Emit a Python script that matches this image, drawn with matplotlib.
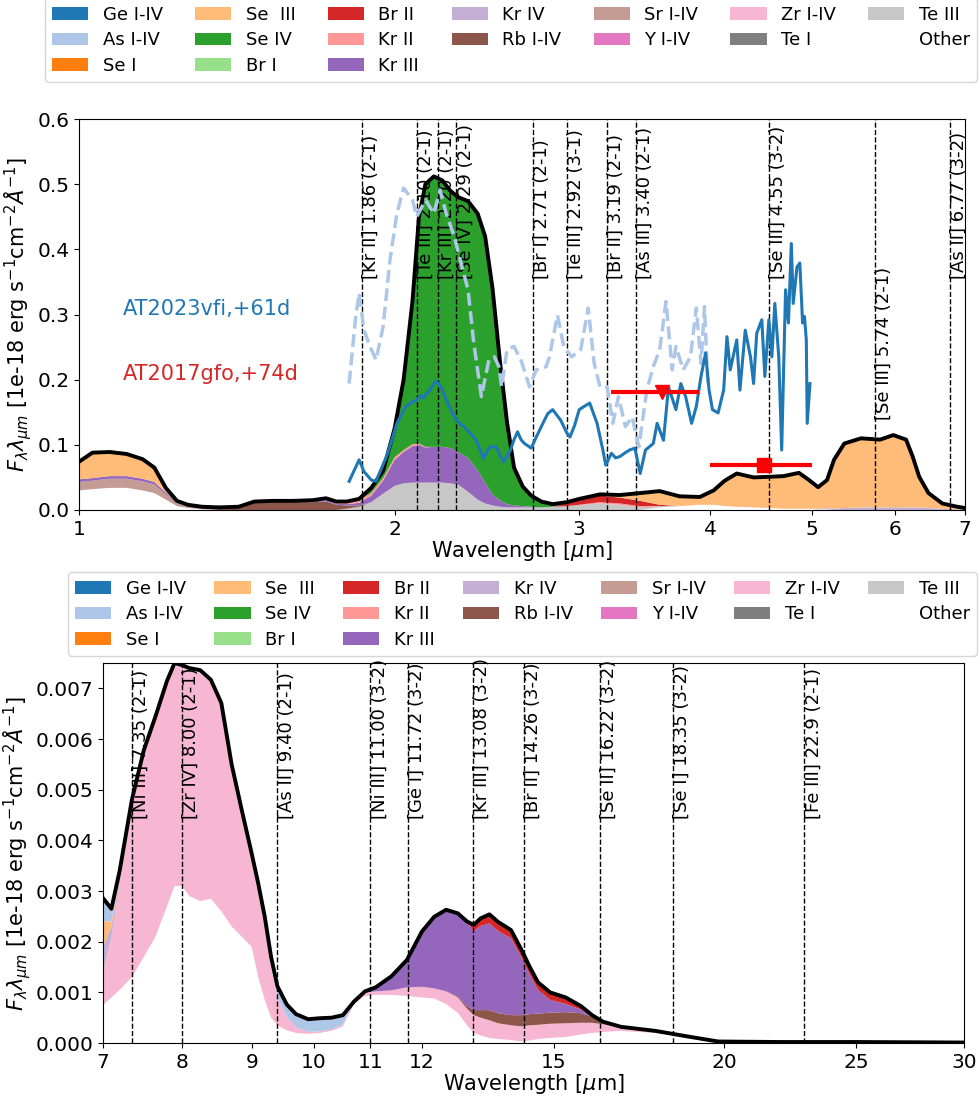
import numpy as np
import matplotlib.pyplot as plt
from matplotlib.patches import Patch
from matplotlib.ticker import FixedLocator, NullLocator, FormatStrFormatter
import matplotlib.transforms as mtransforms

##################
# SPECIES / COLOURS
##################

species = ['Ge I-IV', 'As I-IV', 'Se I', 'Se  III', 'Se IV', 'Br I', 'Br II',
           'Kr II', 'Kr III', 'Kr IV', 'Rb I-IV', 'Sr I-IV', 'Y I-IV',
           'Zr I-IV', 'Te I', 'Te III', 'Other']
colors = list(plt.cm.tab20.colors[:16]) + ['white']
color_of = dict(zip(species, colors))
stack_order = species[::-1]  # 'Other' sits at the bottom of the stack

##################
# NIR MODEL (1-7 um)
##################

nir_wl = [1.00, 1.03, 1.07, 1.11, 1.15, 1.18, 1.21, 1.24, 1.27, 1.31, 1.36, 1.42,
          1.47, 1.53, 1.60, 1.67, 1.72, 1.76, 1.80, 1.85, 1.90, 1.95, 2.00, 2.04,
          2.08, 2.11, 2.14, 2.18, 2.22, 2.26, 2.30, 2.35, 2.40, 2.44, 2.48, 2.52,
          2.56, 2.60, 2.65, 2.70, 2.76, 2.83, 2.92, 3.00, 3.14, 3.28, 3.43, 3.58,
          3.74, 3.91, 4.03, 4.13, 4.24, 4.40, 4.56, 4.70, 4.86, 4.96, 5.07, 5.17,
          5.25, 5.37, 5.57, 5.81, 5.98, 6.15, 6.24, 6.33, 6.46, 6.66, 6.88, 7.00]

nir_other = [.030, .032, .034, .034, .030, .026, .016, .006, .003, .001, 0, 0,
             0, 0, 0, 0, 0, 0, 0, 0, 0, 0, 0, 0,
             0, 0, 0, 0, 0, 0, 0, 0, 0, 0, 0, 0,
             0, 0, 0, 0, 0, 0, 0, 0, 0, 0, 0, .004,
             .006, .008, .008, .006, .005, .004, .003, .002, .002, .002, .001, .001,
             0, 0, 0, 0, 0, 0, 0, 0, 0, 0, 0, 0]
nir_te3 = [0, 0, 0, 0, 0, 0, 0, 0, 0, 0, 0, 0,
           0, 0, 0, 0, 0, 0, .002, .005, .012, .025, .037, .041,
           .042, .042, .042, .042, .042, .041, .039, .028, .016, .010, .007, .005,
           .004, .004, .004, .004, .004, .005, .006, .008, .010, .008, .004, .002,
           0, 0, 0, 0, 0, 0, 0, 0, 0, 0, 0, 0,
           0, 0, 0, 0, 0, 0, 0, 0, 0, 0, 0, 0]
nir_sr = [.013, .013, .014, .014, .014, .013, .008, .004, .002, .001, 0, 0] + [0] * 60
nir_rb = [0, 0, 0, 0, 0, 0, 0, 0, 0, .002, .003, .004,
          .011, .012, .012, .012, .013, .008, .005, .002, 0, 0, 0, 0] + [0] * 48
nir_kr4 = [0] * 48 + [0, 0, 0, 0, 0, 0, 0, 0, 0, 0, .001, .002,
                      .002, .003, .004, .004, .004, .004, .004, .004, .003, .002, .001, .001]
nir_kr3 = [.004, .004, .004, .004, .004, .004, .003, .001, .001, 0, 0, 0,
           .001, .001, .001, .001, .002, .002, .002, .004, .010, .020, .040, .048,
           .056, .058, .054, .055, .055, .054, .050, .052, .045, .032, .017, .010,
           .005, .003, .002, .001, 0, 0, 0, 0, 0, 0, 0, 0] + [0] * 24
nir_kr2 = [0] * 12 + [.001, .001, .001, .002, .003, .003, .004, .004, .004, .004, .004, .003,
                      .003, .002, .001, 0, 0, 0, 0, 0, 0, 0, 0, 0,
                      0, 0, 0, 0, 0, 0, 0, 0, .002, .002, .002, 0] + [0] * 24
nir_br2 = [0] * 36 + [0, 0, 0, 0, 0, 0, .004, .007, .010, .009, .008, .002] + [0] * 24
nir_se4 = [0] * 12 + [0, 0, 0, 0, 0, 0, 0, .002, .008, .011, .044, .108,
                      .219, .348, .403, .415, .409, .395, .391, .394, .394, .378, .316, .215,
                      .126, .058, .030, .017, .009, .004, .002, .002, 0, 0, 0, 0] + [0] * 24
nir_se3 = [.027, .039, .037, .034, .030, .022, .007, .003, .002, .001, .001, .001,
           0, 0, 0, 0, 0, 0, 0, 0, 0, 0, 0, 0,
           0, 0, 0, 0, 0, 0, 0, 0, 0, 0, 0, 0,
           0, 0, 0, 0, 0, 0, 0, 0, .002, .004, .012, .021,
           .015, .012, .022, .039, .051, .046, .048, .050, .055, .045, .033, .043,
           .075, .099, .106, .104, .111, .104, .078, .047, .023, .008, .004, .002]

nir_comps = {'Other': nir_other, 'Te III': nir_te3, 'Sr I-IV': nir_sr, 'Rb I-IV': nir_rb,
             'Kr IV': nir_kr4, 'Kr III': nir_kr3, 'Kr II': nir_kr2, 'Br II': nir_br2,
             'Se IV': nir_se4, 'Se  III': nir_se3}

# observed spectra
vfi_wl = [1.81, 1.85, 1.87, 1.90, 1.92, 1.97, 2.01, 2.05, 2.08, 2.10, 2.12, 2.13,
          2.16, 2.19, 2.215, 2.24, 2.28, 2.31, 2.33, 2.36, 2.38, 2.40, 2.43, 2.45,
          2.47, 2.50, 2.52, 2.54, 2.56, 2.58, 2.60, 2.62, 2.64, 2.66, 2.70, 2.73,
          2.77, 2.80, 2.83, 2.88, 2.92, 2.94, 2.97, 3.00, 3.04, 3.07, 3.12, 3.16,
          3.18, 3.22, 3.25, 3.28, 3.32, 3.35, 3.39, 3.43, 3.47, 3.53, 3.56, 3.61,
          3.65, 3.71, 3.75, 3.79, 3.84, 3.88, 3.92, 3.96, 3.99, 4.02, 4.07, 4.12,
          4.15, 4.18, 4.24, 4.27, 4.32, 4.37, 4.40, 4.43, 4.48, 4.51, 4.55, 4.58,
          4.61, 4.65, 4.68, 4.72, 4.75, 4.78, 4.80, 4.84, 4.87, 4.90, 4.92, 4.94,
          4.95, 4.98]
vfi_flux = [.044, .077, .059, .046, .044, .087, .133, .159, .166, .169, .176, .172,
            .184, .198, .189, .169, .143, .132, .128, .118, .112, .102, .079, .090,
            .097, .097, .085, .074, .082, .092, .108, .120, .108, .102, .095, .112,
            .133, .148, .154, .138, .118, .112, .130, .154, .160, .164, .133, .092,
            .069, .087, .080, .082, .088, .092, .095, .056, .092, .102, .133, .107,
            .189, .154, .194, .174, .133, .159, .205, .241, .184, .154, .149, .184,
            .266, .215, .261, .184, .276, .235, .194, .271, .292, .205, .292, .235,
            .317, .235, .092, .338, .287, .409, .317, .373, .379, .287, .297, .261,
            .133, .194]

spec2_wl = [1.81, 1.835, 1.85, 1.87, 1.895, 1.92, 1.95, 1.98, 2.01, 2.04, 2.08, 2.10,
            2.14, 2.18, 2.21, 2.24, 2.28, 2.31, 2.35, 2.38, 2.42, 2.46, 2.49, 2.515,
            2.53, 2.56, 2.60, 2.64, 2.69, 2.73, 2.79, 2.81, 2.86, 2.90, 2.95, 3.01,
            3.06, 3.10, 3.14, 3.19, 3.23, 3.27, 3.32, 3.37, 3.42, 3.48, 3.53, 3.58,
            3.63, 3.68, 3.71, 3.77, 3.83, 3.88, 3.92, 3.95, 3.98]
spec2_flux = [.194, .292, .333, .276, .251, .230, .281, .384, .455, .494, .476, .450,
              .476, .455, .491, .455, .420, .384, .338, .256, .174, .230, .235, .220,
              .189, .246, .251, .230, .189, .215, .220, .235, .299, .251, .235, .246,
              .310, .225, .189, .189, .133, .174, .128, .143, .097, .184, .220, .246,
              .320, .215, .251, .215, .235, .310, .225, .312, .189]

# AT2017gfo photometry
gfo_wl = [3.6, 4.5]
gfo_flux = [0.181, 0.069]
gfo_xerr_lo = [0.38, 0.5]
gfo_xerr_hi = [0.30, 0.5]

nir_lines = [1.86, 2.10, 2.20, 2.29, 2.71, 2.92, 3.19, 3.40, 4.55, 5.74, 6.77]
nir_line_labels = ['[Kr II] 1.86 (2-1)', '[Te III] 2.10 (2-1)', '[Kr III] 2.20 (2-1)',
                   '[Se IV] 2.29 (2-1)', '[Br I] 2.71 (2-1)', '[Te III] 2.92 (3-1)',
                   '[Br II] 3.19 (2-1)', '[As III] 3.40 (2-1)', '[Se III] 4.55 (3-2)',
                   '[Se III] 5.74 (2-1)', '[As II] 6.77 (3-2)']

##################
# MIR MODEL (7-30 um), values in units of 1e-3
##################

mir_wl = [7.0, 7.1, 7.2, 7.35, 7.5, 7.65, 7.8, 7.9, 8.0, 8.1, 8.25, 8.4,
          8.55, 8.7, 8.85, 9.0, 9.1, 9.2, 9.3, 9.4, 9.55, 9.7, 9.9, 10.1,
          10.3, 10.5, 10.7, 10.9, 11.1, 11.4, 11.7, 12.0, 12.25, 12.5, 12.75, 12.95,
          13.1, 13.25, 13.45, 13.65, 13.95, 14.2, 14.4, 14.6, 14.9, 15.3, 15.7, 16.0,
          16.3, 16.8, 17.8, 18.8, 19.8, 22.0, 25.0, 30.0]

mir_other = [0.75, 0.90, 1.05, 1.30, 1.70, 2.10, 2.70, 3.10, 3.10, 2.90, 2.80, 2.85,
             2.60, 2.30, 2.10, 1.90, 1.30, 0.85, 0.50, 0.35, 0.25, 0.20, 0.18, 0.20,
             0.24, 0.33, 0.77, 0.93, 0.95, 0.95, 0.93, 0.90, 0.88, 0.77, 0.60, 0.35,
             0.20, 0.15, 0.10, 0.08, 0.06, 0.03, 0.05, 0.08, 0.10, 0.12, 0.17, 0.20,
             0.22, 0.24, 0.20, 0.12, 0.03, 0.02, 0.02, 0.01]
mir_zr = [0.65, 1.20, 2.10, 3.45, 4.03, 4.30, 4.40, 4.35, 4.31, 4.45, 4.51, 4.27,
          4.05, 3.13, 2.42, 1.74, 1.73, 1.50, 1.00, 0.55, 0.27, 0.12, 0.04, 0.03,
          0.03, 0.04, 0.05, 0.07, 0.07, 0.09, 0.17, 0.21, 0.20, 0.25, 0.30, 0.33,
          0.35, 0.35, 0.35, 0.31, 0.29, 0.30, 0.30, 0.28, 0.28, 0.27, 0.23, 0.20,
          0.15, 0.08, 0.04, 0.01, 0, 0, 0, 0]
mir_rb = [0] * 24 + [0, 0, 0, 0, 0, 0, 0, 0, 0, 0, 0.02, 0.05,
                     0.10, 0.15, 0.20, 0.20, 0.20, 0.22, 0.22, 0.22, 0.22, 0.22, 0.19, 0.12,
                     0.04, 0, 0, 0, 0, 0, 0, 0]
mir_kr4 = [0.50, 0.20, 0.10] + [0] * 53
mir_se3 = [0.50, 0.10, 0.05] + [0] * 53
mir_as = [0.46, 0.25, 0.10, 0.05, 0.05, 0.05, 0.05, 0.05, 0.05, 0.05, 0.05, 0.05,
          0.06, 0.07, 0.08, 0.10, 0.12, 0.15, 0.20, 0.22, 0.24, 0.25, 0.25, 0.26,
          0.23, 0.18] + [0] * 30
mir_kr3 = [0] * 24 + [0, 0, 0, 0.02, 0.08, 0.28, 0.54, 1.09, 1.41, 1.61, 1.64, 1.65,
                      1.56, 1.66, 1.71, 1.62, 1.52, 1.14, 0.78, 0.47, 0.25, 0.16, 0.07, 0.02,
                      0.01, 0, 0, 0, 0, 0, 0, 0]
mir_br2 = [0] * 24 + [0, 0, 0, 0, 0, 0, 0, 0, 0, 0, 0, 0.02,
                      0.12, 0.15, 0.18, 0.18, 0.16, 0.15, 0.15, 0.15, 0.15, 0.13, 0.07, 0.01,
                      0, 0, 0, 0, 0, 0, 0, 0]

mir_comps = {'Other': mir_other, 'Zr I-IV': mir_zr, 'Rb I-IV': mir_rb, 'Kr IV': mir_kr4,
             'Se  III': mir_se3, 'As I-IV': mir_as, 'Kr III': mir_kr3, 'Br II': mir_br2}

mir_lines = [7.35, 8.00, 9.40, 11.00, 11.72, 13.08, 14.26, 16.22, 18.35, 22.9]
mir_line_labels = ['[Ni III] 7.35 (2-1)', '[Zr IV] 8.00 (2-1)', '[As II] 9.40 (2-1)',
                   '[Ni III] 11.00 (3-2)', '[Ge I] 11.72 (3-2)', '[Kr III] 13.08 (3-2)',
                   '[Br II] 14.26 (3-2)', '[Se II] 16.22 (3-2)', '[Se I] 18.35 (3-2)',
                   '[Fe III] 22.9 (2-1)']

ylabel = r'$F_\lambda \lambda_{\mu m}$ [1e-18 erg s$^{-1}$cm$^{-2}\AA^{-1}$]'


def stack_layers(n, comps, scale=1.0):
    zero = np.zeros(n)
    return [np.asarray(comps.get(s, zero), float) * scale for s in stack_order]


def draw_model(ax, wl, comps, scale=1.0):
    lay = stack_layers(len(wl), comps, scale)
    ax.stackplot(wl, *lay, colors=[color_of[s] for s in stack_order])
    ax.plot(wl, np.sum(lay, axis=0), color='k', lw=2.8, zorder=3)


def draw_lines(ax, lines, labels, ypos=0.59, special=None):
    special = special or {}
    trans = mtransforms.blended_transform_factory(ax.transData, ax.transAxes)
    for wl, lab in zip(lines, labels):
        ax.axvline(wl, color='k', ls='--', lw=1, zorder=4)
        ax.text(wl, special.get(wl, ypos), lab, rotation=90, transform=trans,
                ha='left', va='bottom', fontsize=13, zorder=5)


def add_legend(fig, x0, y0, width):
    handles = [Patch(facecolor=c, edgecolor='none', label=s) for s, c in zip(species, colors)]
    fig.legend(handles=handles, ncol=7, loc='lower left', mode='expand',
               bbox_to_anchor=(x0, y0, width, 0.08), bbox_transform=fig.transFigure,
               borderaxespad=0, fontsize=13, labelspacing=0.42)


def style_axis(ax, xticks, yfmt):
    ax.set_xscale('log')
    ax.xaxis.set_major_locator(FixedLocator(xticks))
    ax.xaxis.set_major_formatter(FormatStrFormatter('%d'))
    ax.xaxis.set_minor_locator(NullLocator())
    ax.yaxis.set_major_formatter(FormatStrFormatter(yfmt))
    ax.tick_params(labelsize=14.5)
    ax.set_xlabel(r'Wavelength [$\mu$m]', fontsize=15, labelpad=0)
    ax.set_ylabel(ylabel, fontsize=15, labelpad=2)


fig = plt.figure(figsize=(9.8, 10.97), dpi=100)

# ---- top panel
ax1 = fig.add_axes([0.0806, 0.5351, 0.9041, 0.3564])
draw_model(ax1, nir_wl, nir_comps)
ax1.plot(spec2_wl, spec2_flux, color='#aec7e8', ls='--', lw=2.5, zorder=6)
ax1.plot(vfi_wl, vfi_flux, color='tab:blue', lw=2.2, zorder=6)
ax1.errorbar(gfo_wl[0], gfo_flux[0], xerr=[[gfo_xerr_lo[0]], [gfo_xerr_hi[0]]],
             fmt='v', color='red', ms=10, elinewidth=3, zorder=7)
ax1.errorbar(gfo_wl[1], gfo_flux[1], xerr=[[gfo_xerr_lo[1]], [gfo_xerr_hi[1]]],
             fmt='s', color='red', ms=10, elinewidth=3, zorder=7)
draw_lines(ax1, nir_lines, nir_line_labels, special={5.74: 0.23})
ax1.text(1.1, 0.3, 'AT2023vfi,+61d', color='tab:blue', fontsize=15)
ax1.text(1.1, 0.2, 'AT2017gfo,+74d', color='tab:red', fontsize=15)

style_axis(ax1, [1, 2, 3, 4, 5, 6, 7], '%.1f')
ax1.set_xlim(1, 7)
ax1.set_ylim(0, 0.6)
ax1.set_yticks(np.arange(0, 0.61, 0.1))
add_legend(fig, 0.046, 0.9253, 0.951)

# ---- bottom panel
ax2 = fig.add_axes([0.1051, 0.0492, 0.8786, 0.3464])
draw_model(ax2, mir_wl, mir_comps, scale=1e-3)
draw_lines(ax2, mir_lines, mir_line_labels)

style_axis(ax2, [7, 8, 9, 10, 11, 12, 15, 20, 25, 30], '%.3f')
ax2.set_xlim(7, 30)
ax2.set_ylim(0, 0.0075)
ax2.set_yticks(np.arange(0, 0.0071, 0.001))
add_legend(fig, 0.0694, 0.402, 0.9275)

fig.savefig('out.png', dpi=100)
